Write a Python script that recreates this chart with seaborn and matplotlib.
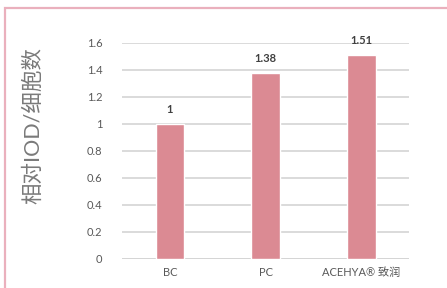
import pandas as pd
import seaborn as sns
import matplotlib.pyplot as plt
from matplotlib.patches import Rectangle

sns.set_style("white")
plt.rcParams['font.family'] = ['Lato', 'Noto Sans CJK SC', 'DejaVu Sans']

groups = ['BC', 'PC', 'ACEHYA® 致润']
values = [1, 1.38, 1.51]
value_labels = ['1', '1.38', '1.51']
yticks = [0, 0.2, 0.4, 0.6, 0.8, 1, 1.2, 1.4, 1.6]
ytick_labels = ['0', '0.2', '0.4', '0.6', '0.8', '1', '1.2', '1.4', '1.6']

BAR_COLOR = '#db8a93'
GRID_COLOR = '#d4d4d4'
TEXT_COLOR = '#595959'

df = pd.DataFrame({'group': groups, 'value': values})

fig = plt.figure(figsize=(4.47, 2.88), dpi=100)
ax = fig.add_axes([0.273, 0.1007, 0.642, 0.750])

# pink frame around the picture
fig.patches.append(Rectangle((5 / 447, -0.1), 1.2, 1 - 7.5 / 288 + 0.1,
                             transform=fig.transFigure, fill=False,
                             edgecolor='#eab0bd', linewidth=1.6, zorder=0))

sns.barplot(data=df, x='group', y='value', color=BAR_COLOR, width=0.3,
            saturation=1, ax=ax, zorder=3)

ax.set_xlim(-0.5, 2.5)
ax.set_ylim(0, 1.6)
ax.set_yticks(yticks)
ax.set_yticklabels(ytick_labels)
ax.yaxis.grid(True, color=GRID_COLOR, linewidth=1.2)
ax.set_axisbelow(True)
sns.despine(ax=ax, left=True, bottom=True, top=True, right=True)
ax.axhline(0, color=GRID_COLOR, linewidth=1.2, zorder=2)

ax.tick_params(axis='both', length=0, labelsize=8, colors=TEXT_COLOR, pad=6)
ax.tick_params(axis='y', pad=14)
ax.set_xlabel('')
ax.set_ylabel('相对IOD/细胞数', fontsize=15.5, color='#7a7a7a')
ax.yaxis.set_label_coords(-0.275, 0.62)

for i, (v, lab) in enumerate(zip(values, value_labels)):
    ax.text(i, v + 0.065, lab, ha='center', va='bottom', fontsize=8,
            fontweight='bold', color='#404040')

fig.savefig('out.png', dpi=100, facecolor='white')
